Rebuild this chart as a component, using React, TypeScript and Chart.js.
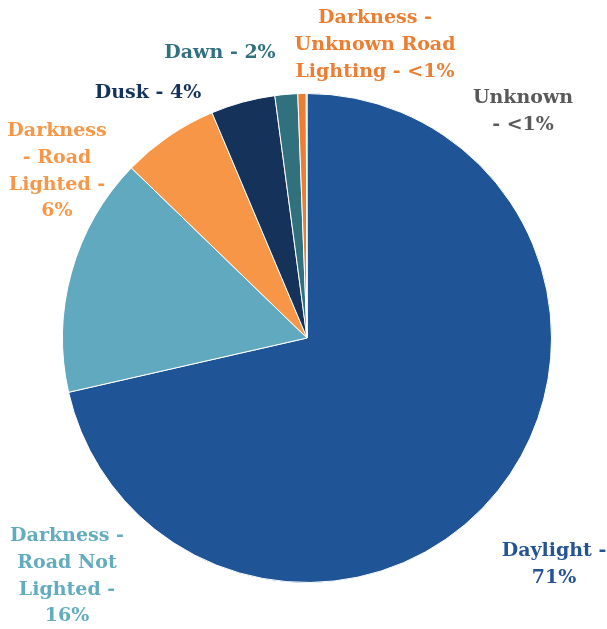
import React, { useEffect, useRef } from "react";
import { Chart, registerables } from "chart.js";

Chart.register(...registerables);

const categories = [
  "Daylight",
  "Darkness - Road Not Lighted",
  "Darkness - Road Lighted",
  "Dusk",
  "Dawn",
  "Darkness - Unknown Road Lighting",
  "Unknown",
];
const values = [71.4, 15.8, 6.4, 4.25, 1.5, 0.55, 0.05];
const percentLabels = ["71%", "16%", "6%", "4%", "2%", "<1%", "<1%"];
const labelLines = [
  ["Daylight -", "71%"],
  ["Darkness -", "Road Not", "Lighted -", "16%"],
  ["Darkness", "- Road", "Lighted -", "6%"],
  ["Dusk - 4%"],
  ["Dawn - 2%"],
  ["Darkness -", "Unknown Road", "Lighting - <1%"],
  ["Unknown", "- <1%"],
];

const sliceColors = ["#1F5496", "#60A9BE", "#F79646", "#15325A", "#31707D", "#ED7D31", "#7F7F7F"];
const textColors = ["#245495", "#63ACBF", "#F79646", "#15325A", "#31707D", "#ED7D31", "#595959"];
// label centres (x, y of first line centre)
const labelPos = [
  [554, 551],
  [67, 536],
  [57, 131],
  [148, 93],
  [220, 53],
  [375, 18],
  [523, 98],
];
const LINE_H = 26.8;
const FONT = "bold 19px \"DejaVu Serif\"";

const labelPlugin = {
  id: "outerLabels",
  afterDraw(chart: any) {
    const ctx = chart.ctx;
    ctx.save();
    ctx.font = FONT;
    ctx.textAlign = "center";
    ctx.textBaseline = "middle";
    labelLines.forEach((lines, i) => {
      ctx.fillStyle = textColors[i];
      const [x, y] = labelPos[i];
      lines.forEach((t, j) => ctx.fillText(t, x, y + j * LINE_H));
    });
    ctx.restore();
  },
};

export default function App() {
  const ref = useRef<HTMLCanvasElement>(null);
  useEffect(() => {
    if (!ref.current) return;
    const chart = new Chart(ref.current, {
      type: "pie",
      data: {
        labels: categories.map((c, i) => `${c} - ${percentLabels[i]}`),
        datasets: [
          {
            data: values,
            backgroundColor: sliceColors,
            borderColor: "#ffffff",
            borderWidth: 1,
          },
        ],
      },
      options: {
        responsive: false,
        animation: false,
        layout: { padding: { left: 62, right: 55, top: 93, bottom: 46 } },
        plugins: { legend: { display: false }, tooltip: { enabled: false } },
      },
      plugins: [labelPlugin],
    });
    return () => chart.destroy();
  }, []);
  return (
    <div style={{ position: "fixed", left: 0, top: 0, width: 607, height: 629, background: "#fff" }}>
      <canvas ref={ref} width={607} height={629} style={{ display: "block" }} />
    </div>
  );
}
